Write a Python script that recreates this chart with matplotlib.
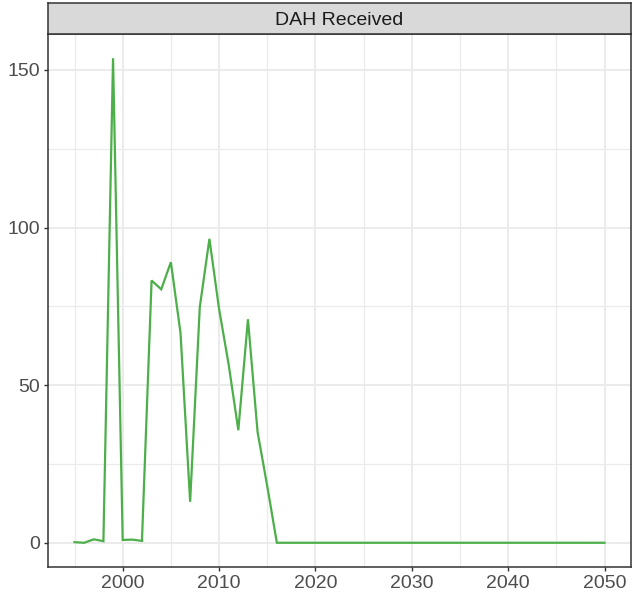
import numpy as np
import matplotlib
matplotlib.use('Agg')
import matplotlib.pyplot as plt
from matplotlib.ticker import MultipleLocator

plt.rcParams['font.family'] = ['Liberation Sans', 'DejaVu Sans']

# DAH received per year
years = list(range(1995, 2051))
dah_early = [0.2, 0.0, 1.1, 0.5, 153.7, 0.9, 1.0, 0.6, 83.2, 80.4, 89.0,
             66.6, 13.0, 74.7, 96.4, 74.2, 56.5, 35.7, 70.9, 35.1, 18.0]
dah = dah_early + [0.0] * (len(years) - len(dah_early))

panel_title = 'DAH Received'
x_major = [2000, 2010, 2020, 2030, 2040, 2050]
y_major = [0, 50, 100, 150]

W, H = 632, 598
fig = plt.figure(figsize=(W / 100, H / 100), dpi=100)

# panel box in pixels
left, right, top, bottom = 48, 631, 34, 567
strip_top = 3

ax = fig.add_axes([left / W, (H - bottom) / H, (right - left) / W, (bottom - top) / H])
strip = fig.add_axes([left / W, (H - top) / H, (right - left) / W, (top - strip_top) / H])

border = '#333333'

ax.plot(years, dah, color='#4DAF4A', linewidth=1.6, solid_joinstyle='miter', zorder=3)

# ggplot-like 5% expansion
xr = max(years) - min(years)
ax.set_xlim(min(years) - 0.05 * xr, max(years) + 0.05 * xr)
yr = max(dah) - min(dah)
ax.set_ylim(min(dah) - 0.05 * yr, max(dah) + 0.05 * yr)

ax.set_xticks(x_major)
ax.set_yticks(y_major)
ax.xaxis.set_minor_locator(MultipleLocator(5))
ax.yaxis.set_minor_locator(MultipleLocator(25))
ax.grid(which='major', color='#EBEBEB', linewidth=1.4)
ax.grid(which='minor', color='#EBEBEB', linewidth=0.9)
ax.set_axisbelow(True)

ax.tick_params(which='major', length=3, width=1.0, color=border,
               labelsize=14, labelcolor='#4D4D4D', pad=3)
ax.tick_params(which='minor', length=0)
for s in ax.spines.values():
    s.set_color(border)
    s.set_linewidth(1.1)

strip.set_facecolor('#D9D9D9')
strip.set_xticks([])
strip.set_yticks([])
for s in strip.spines.values():
    s.set_color(border)
    s.set_linewidth(1.1)
strip.text(0.5, 0.45, panel_title, ha='center', va='center',
           fontsize=14, color='#1A1A1A', transform=strip.transAxes)

fig.savefig('out.png', dpi=100)
